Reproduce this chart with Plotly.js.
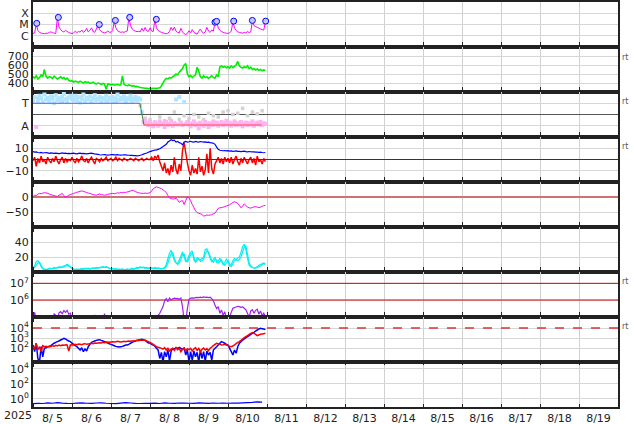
<!DOCTYPE html>
<html><head><meta charset="utf-8">
<script src="https://cdn.plot.ly/plotly-3.0.1.min.js"></script>
<style>html,body{margin:0;padding:0;background:#fff}#chart{width:634px;height:424px}</style>
</head><body><div id="chart"></div>
<script>
// ---- time base ----
const START = Date.UTC(2025, 7, 5, 0);
const X_RANGE = ['2025-08-05 00:00', '2025-08-20 00:00'];
function stamp(ms){ return new Date(ms).toISOString().slice(0,16).replace('T',' '); }
function times(n, stepHours){ const a=[]; for(let i=0;i<n;i++) a.push(stamp(START + i*stepHours*3600000)); return a; }

// ---- panel 1: X-ray flux (C-class units) ----
const fluxC = [1.6,1.8,11,3,2,1.7,1.6,1.5,1.7,1.6,2.0,2.2,1.9,1.7,1.6,38,6,3.5,2.5,2.2,3.0,2.4,2.0,1.7,
 1.6,1.8,2.5,1.9,2.4,2.1,3.2,2.0,2.6,4.5,2.2,3.0,5.0,2.4,2.0,4.0,9,3.5,2.4,2.0,1.8,2.0,2.6,2.1,
 2.0,2.8,20,5,2.8,2.3,2.0,2.2,2.0,2.4,2.6,40,8,4,3,2.6,2.3,2.5,2.2,4.5,2.5,5.5,2.8,2.4,
 5.0,2.6,2.4,26,5,3,2.4,2.0,1.8,1.6,1.5,1.7,2.4,5.5,3.0,6.0,2.5,2.0,1.8,4.5,2.2,1.5,1.3,1.6,
 2.8,1.8,3.5,2.0,1.6,1.4,2.5,4.0,2.2,1.7,2.2,5.5,2.6,2.0,3.2,2.6,16,18,5,3,2.4,2.0,1.8,1.7,
 1.6,1.8,2.6,17,5,3,2.2,2.0,1.8,1.7,2.0,1.8,2.4,1.9,2.2,20,8,6.5,5.5,4.8,4.0,3.5,3.2,18];
const flareTimes = ['2025-08-05 02:18','2025-08-05 15:36','2025-08-06 16:48','2025-08-07 02:42','2025-08-07 11:30',
 '2025-08-08 03:54','2025-08-09 16:00','2025-08-09 17:00','2025-08-10 03:30','2025-08-10 15:00','2025-08-10 23:12'];
const flarePeaks = [12.7,43,10,23,43,29,16,19,20,23,20];
const fluxTicks = [1,10,100], fluxLabels = ['C','M','X'];

// ---- panel 2: solar wind speed ----
const speed = [470,455,480,445,460,490,470,550,475,455,470,465,450,475,460,445,455,470,450,460,440,455,430,420,
 425,410,420,415,405,420,410,400,415,405,410,395,400,410,395,390,400,395,385,395,390,330,390,385,
 380,385,375,380,385,375,380,480,385,375,370,378,372,365,370,360,362,355,350,348,345,342,340,338,
 340,338,342,340,338,345,345,365,400,430,450,445,460,455,470,480,500,490,520,540,560,600,615,500,
 470,485,460,475,490,575,530,470,455,480,460,470,450,465,480,460,455,490,470,580,590,575,585,570,
 580,565,590,570,585,600,640,590,575,565,580,570,590,560,575,550,560,545,555,540,550,535,545,540];

// ---- panel 3: IMF angle / sector ----
const phi = [300,320,80,290,330,310,280,340,300,315,290,325,305,270,335,300,310,290,320,345,300,285,315,330,
 310,295,330,300,320,275,305,340,290,315,300,325,285,310,335,295,305,320,280,310,300,330,290,315,
 305,320,285,310,340,295,315,300,325,280,310,300,330,290,305,320,295,310,300,200,120,130,110,95,
 120,100,85,115,105,90,125,100,110,80,120,95,105,130,90,110,300,100,320,115,95,280,105,120,
 100,85,110,125,95,105,70,115,100,90,120,105,80,110,95,125,100,115,90,105,120,95,110,130,
 100,115,90,105,125,95,110,100,120,85,105,115,95,110,100,125,90,105,115,100,120,95,110,105];
const phiGrey = [290,310,280,300,320,295,285,310,300,290,320,305,280,300,315,290,300,285,310,295,320,300,250,150,
 140,120,160,130,150,200,140,170,150,180,160,140,190,170,160,200,210,180,190,230,170,200,185,210];
const sectorTimes = ['2025-08-05 00:00','2025-08-07 17:48','2025-08-07 20:18','2025-08-10 20:42'];
const sectorVals = [270,270,96,96];

// ---- panel 4: Bt / Bz ----
const bt = [7.0,6.5,6.8,6.2,6.0,6.3,5.8,6.0,6.2,5.9,5.5,5.8,5.6,5.4,5.7,5.5,5.2,5.5,5.8,5.4,5.6,5.3,5.5,5.2,
 5.4,5.6,5.3,5.0,5.4,5.6,5.2,5.5,5.3,5.0,5.2,5.4,5.6,5.3,5.0,4.8,4.5,4.2,4.0,4.2,4.4,4.1,3.9,4.0,
 4.4,4.3,4.1,4.2,4.3,4.0,3.9,4.0,4.1,4.2,3.9,3.8,3.7,3.6,3.5,3.4,3.3,3.5,3.8,4.2,4.8,5.3,5.8,6.5,
 7.0,7.5,8.0,8.3,8.5,9.0,9.5,10.5,11.5,12.5,13.5,15.5,16.5,17.5,16.8,17.2,15.5,16.0,15.0,14.5,13.0,15.5,16.0,15.5,
 15.8,16.2,15.6,15.4,16.0,15.7,15.5,16.0,15.8,15.4,15.6,15.2,15.5,15.0,14.8,14.5,13.5,11.0,9.0,8.2,8.0,7.8,8.0,7.6,
 7.8,7.5,7.6,7.3,7.4,7.6,7.2,7.3,7.0,7.2,7.4,7.0,6.8,7.1,6.9,6.7,6.8,6.5,6.6,6.4,6.5,6.2,6.0,6.2];
const bz = [-1,2,-6,1,-3,3,-2,0,-4,2,-1,-3,1,-2,3,-1,-4,0,2,-3,1,-2,0,-1,
 2,-1,-3,1,-2,0,3,-1,-2,1,-3,0,2,-1,-4,1,0,-2,1,-1,0,2,-1,0,
 1,-1,0,2,-1,1,0,-1,1,0,-1,0,1,0,-1,1,0,-1,0,1,-1,0,1,0,
 0,2,-1,3,1,4,-2,-6,-10,-3,-12,-8,-14,-5,-11,2,-9,-13,-4,-10,8,15,6,-3,
 -10,-14,-5,-12,-8,-13,2,-11,-6,-14,-9,5,-12,10,-8,-13,-4,-1,2,-3,1,-4,2,-2,
 1,-3,2,-4,0,3,-2,-5,1,-3,2,-1,-4,0,2,-3,1,-5,3,-2,0,-4,1,-2];

// ---- panel 5: Dst ----
const dst = [1,6,5,9,12,11,13,14,14,12,10,8,6,5,3,2,6,9,12,5,-2,2,6,8,
 10,12,14,16,17,19,20,19,17,15,13,12,10,8,7,6,8,10,8,7,6,7,9,10,
 11,12,11,12,14,13,15,14,16,15,17,18,20,22,21,18,16,14,13,12,12,13,12,13,
 14,20,28,31,34,32,30,28,24,20,15,5,-3,-5,-7,-6,-4,-10,-18,-14,-12,-25,-12,0,
 -3,-12,-25,-35,-46,-52,-54,-56,-58,-64,-62,-60,-61,-60,-59,-56,-54,-46,-38,-36,-35,-34,-32,-30,
 -28,-26,-22,-18,-16,-18,-21,-28,-36,-30,-23,-28,-34,-36,-37,-35,-33,-32,-34,-35,-34,-31,-29,-28];

// ---- panel 6: density (two sources) ----
const dens1 = [6,8,14,15,12,7,4,4,3.5,4,5,4.5,5,6,5,6,7,6,7,8,9,10,9,6,
 5,4,3.5,4,3.5,4,4.5,4,5,4.5,5,4,5,5.5,5,6,5.5,6,6.5,7,6,7.5,6,5,
 5,4.5,4,4.5,3.5,4,3.5,4,3,3.5,4,3.5,4,5,4,5,6,5.5,7,6,6.5,5.5,6,5,
 6,5.5,5,6,5,5.5,5,4.5,5,6,10,18,25,29,22,15,12,11,16,21,27,20,14,16,
 22,26,28,16,14,19,17,16,18,20,30,31,25,18,14,17,20,13,15,18,14,10,13,17,
 14,8,10,15,18,16,19,20,26,34,37,30,18,9,7,6,5.5,6,7,9,10,11,12,11];
const dens2 = [5,6,9,12,13,9,5,3.5,3,3.5,4,4,4.5,5,5,5.5,6,6.5,6,7,8,8.5,8,7,
 5,4,3,3.5,3,3.5,4,3.5,4,4,4.5,4,4.5,5,5,5.5,5,5.5,6,6.5,6,6.5,6,5,
 4.5,4,3.5,4,3,3.5,3,3.5,2.5,3,3.5,3,3.5,4,3.5,4.5,5,5,6,5.5,6,5,5.5,4.5,
 5,5,4.5,5,4.5,5,4.5,4,4.5,5,7,12,19,24,26,18,13,10,12,17,23,24,17,13,
 18,23,25,20,13,15,18,14,15,17,24,28,27,21,15,13,17,16,12,14,16,11,9,12,
 15,11,7,11,15,17,15,17,20,27,33,35,24,12,8,6,5,5,6,7,8,10,11,10];

// ---- panel 7: electron flux ----
const elec = [5e4,1.8e5,6e4,5e4,5e4,5e4,5e4,5e4,5e4,5e4,5e4,5e4,5e4,1.5e5,1.2e5,6e4,1.7e5,2.0e5,1.5e5,2.3e5,1.8e5,2.4e5,1.4e5,1.6e5,
 7e4,5e4,5e4,5e4,5e4,5e4,5e4,5e4,5e4,5e4,5e4,5e4,5e4,5e4,1.3e5,5e4,5e4,5e4,5e4,5e4,1.5e5,5e4,5e4,5e4,
 5e4,5e4,5e4,5e4,5e4,5e4,5e4,5e4,5e4,5e4,5e4,5e4,5e4,5e4,5e4,5e4,5e4,5e4,5e4,5e4,5e4,5e4,5e4,5e4,
 5e4,5e4,5e4,5e4,5e4,1.2e5,1.6e5,2.5e5,4e5,9e5,1.2e6,8e5,1.3e6,1.0e6,1.2e6,1.3e6,1.2e6,1.25e6,1.1e6,1.3e6,4e5,6e4,5e4,3e5,
 1.1e6,1.3e6,1.35e6,1.3e6,1.4e6,1.45e6,1.4e6,1.5e6,1.4e6,1.55e6,1.45e6,1.5e6,1.4e6,1.5e6,1.2e6,9e5,5e5,3e5,4e5,1.6e5,2.5e5,1.2e5,2.0e5,8e4,
 5e4,1.0e5,1.8e5,3.2e5,3.5e5,3.8e5,4.2e5,4.0e5,3.6e5,3.9e5,3.2e5,2.6e5,1.6e5,9e4,2.2e5,2.6e5,1.6e5,2.4e5,2.8e5,1.4e5,2.2e5,1.2e5,1.6e5,1e5];
const elecLimits = [1e6, 1e7];

// ---- panel 8: particle flux (two channels) ----
const protBlue = [200,43,300,9,4,135,13,93,105,135,135,170,230,300,370,430,500,630,740,930,800,630,500,430,
 300,230,170,135,93,63,105,43,80,50,135,230,370,430,500,580,630,680,580,500,430,370,320,270,
 230,200,170,145,135,125,135,145,170,200,200,230,300,370,430,500,580,630,680,740,680,580,430,320,
 320,230,200,150,93,63,9,37,4,43,13,63,5,50,93,80,105,93,115,93,73,100,20,63,
 4,43,6,50,13,37,4,63,9,43,5,50,20,37,6,63,93,135,200,300,430,370,300,230,
 200,93,43,20,63,30,135,300,430,630,800,1080,1360,1700,2300,2900,3700,5000,6300,8000,9300,8600,8000,6800];
const protRed = [136,93,293,63,136,43,171,136,147,126,158,136,171,147,185,158,200,171,200,185,215,200,50,200,
 215,200,233,215,251,233,215,251,271,233,251,271,293,271,316,293,316,341,316,369,341,369,398,369,
 398,430,398,430,464,430,398,430,464,430,464,501,464,501,541,501,585,541,631,585,631,585,501,430,
 369,293,233,171,136,117,108,93,79,108,63,93,50,79,93,58,108,68,93,43,74,100,54,86,
 68,93,50,79,108,58,93,43,74,100,63,86,54,93,126,171,233,293,271,233,200,215,233,200,
 171,147,136,158,200,271,369,430,585,794,1080,1360,1710,2330,2930,3410,2930,2330,1710,2000,2330,2510,2710,2930];
const protLimit = 1e4;

// ---- panel 9: low channel (3-hourly) ----
const lowBlue = [0.24,0.26,0.25,0.30,0.27,0.32,0.28,0.26,0.25,0.28,0.30,0.27,0.26,0.29,0.31,0.27,
 0.25,0.24,0.28,0.33,0.29,0.26,0.25,0.27,0.26,0.28,0.25,0.30,0.27,0.26,0.29,0.28,
 0.27,0.26,0.30,0.28,0.26,0.29,0.27,0.28,0.27,0.29,0.28,0.31,0.33,0.36,0.42,0.38];

const dayLabelsYear = '2025';

// ---- build ----
const tH = times(144, 1);
const t3 = times(48, 3);
const FONT = {family:'DejaVu Sans, sans-serif', size:11, color:'#222'};
const traces = [];
function line(x, y, ax, color, width, dash){ traces.push({type:'scatter', mode:'lines', x, y, yaxis:ax, xaxis:'x', line:{color, width:width||1, dash:dash||'solid', simplify:false}, hoverinfo:'skip', showlegend:false}); }
function hline(v, ax, color, width, dash){ line(X_RANGE, [v, v], ax, color, width, dash); }

// panel 1
line(tH, fluxC, 'y', '#ff00ff', 1);
traces.push({type:'scatter', mode:'markers', x:flareTimes, y:flarePeaks, yaxis:'y', xaxis:'x', marker:{size:6, color:'#c8c8ff', line:{color:'#0000ff', width:1}}, hoverinfo:'skip', showlegend:false});
// panel 2
line(tH, speed, 'y2', '#00ee00', 1.6);
// panel 3
hline(180, 'y3', '#555555', 1);
traces.push({type:'scatter', mode:'markers', x:t3, y:phiGrey, yaxis:'y3', xaxis:'x', marker:{symbol:'square', size:3.5, color:'#d2d2d2'}, hoverinfo:'skip', showlegend:false});
traces.push({type:'scatter', mode:'markers', x:tH, y:phi, yaxis:'y3', xaxis:'x', marker:{symbol:'square', size:4, color:phi.map(v => v > 180 ? '#aee6ff' : '#ffb3f2')}, hoverinfo:'skip', showlegend:false});
line(sectorTimes.slice(0,2), sectorVals.slice(0,2), 'y3', '#4466ff', 1);
line(sectorTimes.slice(1,3), sectorVals.slice(1,3), 'y3', '#338833', 1);
line(sectorTimes.slice(2,4), sectorVals.slice(2,4), 'y3', '#ff4444', 1);
// panel 4
line(tH, bz, 'y4', '#ff0000', 1.5);
line(tH, bt, 'y4', '#0000ff', 1.2);
hline(0, 'y4', '#b00000', 1);
// panel 5
hline(0, 'y5', '#d07070', 2);
line(tH, dst, 'y5', '#ff00ff', 1);
// panel 6
line(tH, dens2, 'y6', '#00f0f0', 1.2);
line(tH, dens1, 'y6', '#00f0f0', 1.2);
// panel 7
elecLimits.forEach(v => hline(v, 'y7', '#d00000', 1));
line(tH, elec, 'y7', '#a020f0', 1.2);
// panel 8
line(tH, protBlue, 'y8', '#0000ff', 1.5);
line(tH, protRed, 'y8', '#ff0000', 1.5);
hline(protLimit, 'y8', '#dd3333', 1.5, 'dash');
// panel 9
line(t3, lowBlue, 'y9', '#0000ff', 1.2);

const N = 9;
function dom(i){ return [1-(i+1)/N, 1-i/N]; }
function yax(i, extra){
  return Object.assign({domain:dom(i), anchor:'x', showline:true, mirror:true, linewidth:2, linecolor:'#222',
    showgrid:true, gridcolor:'#d6d6d6', gridwidth:1, zeroline:false, ticks:'', tickfont:FONT, fixedrange:true}, extra);
}
const layout = {
  width:634, height:424, margin:{l:33, r:16, t:2, b:17}, paper_bgcolor:'#fff', plot_bgcolor:'#fff',
  showlegend:false, font:FONT,
  xaxis:{type:'date', range:X_RANGE, anchor:'y9', showline:true, mirror:'allticks', linewidth:2, linecolor:'#222',
    showgrid:true, gridcolor:'#d0d0d0', gridwidth:1, dtick:86400000, tick0:'2025-08-05', tickformat:'%-m/%e',
    ticklabelmode:'period', ticks:'inside', ticklen:3, tickcolor:'#222', tickfont:FONT, zeroline:false},
  yaxis: yax(0, {type:'log', range:[-1,3], tickvals:fluxTicks, ticktext:fluxLabels}),
  yaxis2: yax(1, {range:[300,800], tickvals:[400,500,600,700]}),
  yaxis3: yax(2, {range:[0,360], tickvals:[90,270], ticktext:['A','T']}),
  yaxis4: yax(3, {range:[-20,20], tickvals:[-10,0,10], ticktext:['\u221210','0','10']}),
  yaxis5: yax(4, {range:[-100,50], tickvals:[-50,0], ticktext:['\u221250','0']}),
  yaxis6: yax(5, {range:[0,60], tickvals:[20,40]}),
  yaxis7: yax(6, {type:'log', range:[4.98,7.68], tickvals:[1e6,1e7], ticktext:['10<sup>6</sup>','10<sup>7</sup>']}),
  yaxis8: yax(7, {type:'log', range:[0.6,5.1], tickvals:[100,1000,10000], ticktext:['10<sup>2</sup>','10<sup>3</sup>','10<sup>4</sup>']}),
  yaxis9: yax(8, {type:'log', range:[-1.07,4.93], tickvals:[1,100,10000], ticktext:['10<sup>0</sup>','10<sup>2</sup>','10<sup>4</sup>']}),
  annotations: [
    {text:dayLabelsYear, xref:'paper', yref:'paper', x:-0.026, y:-0.02, xanchor:'center', yanchor:'middle', showarrow:false, font:FONT},
  ].concat([0.864, 0.754, 0.642, 0.309, 0.198].map(yp => ({text:'rt', xref:'paper', yref:'paper', x:1.012, y:yp, xanchor:'center', yanchor:'middle', showarrow:false, font:{family:'DejaVu Sans, sans-serif', size:8, color:'#555'}})))
};
Plotly.newPlot('chart', traces, layout, {displayModeBar:false, staticPlot:true});
</script>
</body></html>
